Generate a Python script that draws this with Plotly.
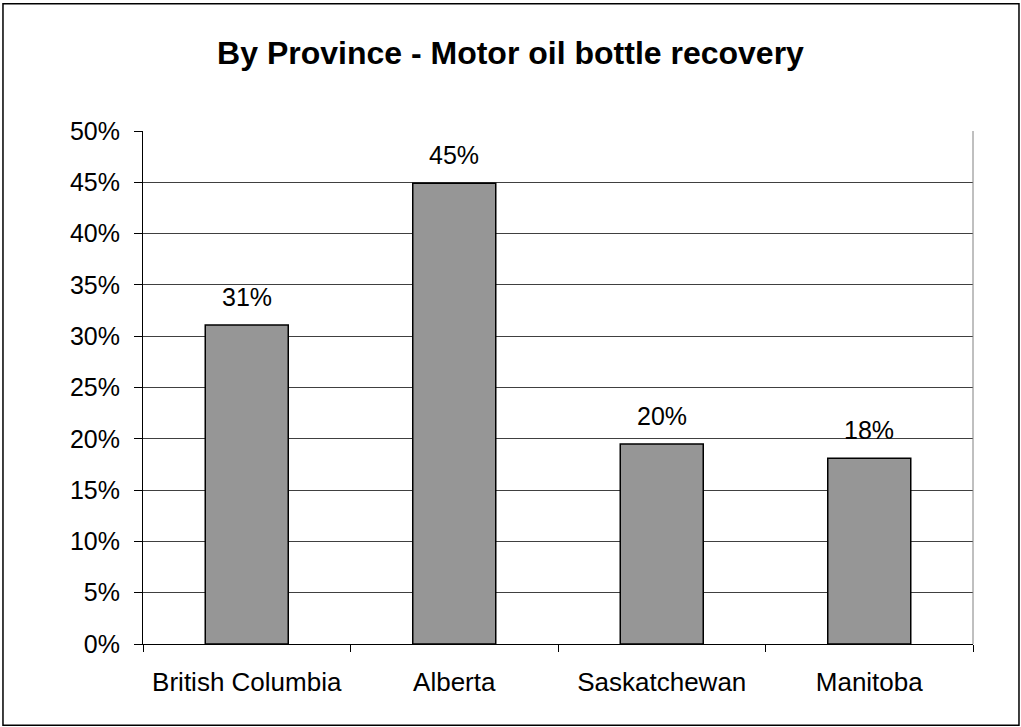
import plotly.graph_objects as go

provinces = ["British Columbia", "Alberta", "Saskatchewan", "Manitoba"]
recovery = [0.311, 0.449, 0.195, 0.181]
labels = ["31%", "45%", "20%", "18%"]
y_ticks = [0, 0.05, 0.10, 0.15, 0.20, 0.25, 0.30, 0.35, 0.40, 0.45, 0.50]

FONT = "Liberation Sans, Arial, sans-serif"

fig = go.Figure(go.Bar(
    x=provinces,
    y=recovery,
    width=0.4,
    marker=dict(color="#969696", line=dict(color="#000000", width=1.5)),
))

# value labels above bars
for p, v, t in zip(provinces, recovery, labels):
    fig.add_annotation(x=p, y=v, text=t, showarrow=False, yanchor="bottom",
                       yshift=12, font=dict(family=FONT, size=25, color="#000"))

# outer chart border
fig.add_shape(type="rect", xref="paper", yref="paper",
              x0=-0.1687, x1=1.0554, y0=-0.1586, y1=1.248,
              line=dict(color="#000", width=1.5))

fig.update_layout(
    width=1021, height=727,
    margin=dict(l=143, r=48, t=131, b=83),
    paper_bgcolor="white", plot_bgcolor="white",
    showlegend=False,
    title=dict(text="<b>By Province - Motor oil bottle recovery</b>",
               x=0.5, xref="container", y=0.928, yanchor="middle",
               font=dict(family=FONT, size=32, color="#000")),
    font=dict(family=FONT, size=25, color="#000"),
    xaxis=dict(
        tickson="boundaries", ticks="outside", ticklen=7, tickcolor="#000",
        showgrid=False, showline=True, linecolor="#000", linewidth=1,
        ticklabelstandoff=15, tickfont=dict(size=26),
    ),
    yaxis=dict(
        range=[0, 0.5], tickvals=y_ticks, tickformat=".0%",
        ticks="outside", ticklen=8, tickcolor="#000",
        showgrid=True, gridcolor="#404040", gridwidth=1,
        showline=True, linecolor="#000", linewidth=1,
        zeroline=False, ticklabelstandoff=9,
    ),
)

# plot area border on right side (gray)
fig.add_shape(type="line", xref="paper", yref="paper", x0=1, x1=1, y0=0, y1=1,
              line=dict(color="#808080", width=1))

fig.write_html("out.html", config={"displayModeBar": False},
               post_script="document.body.style.margin='0';")
